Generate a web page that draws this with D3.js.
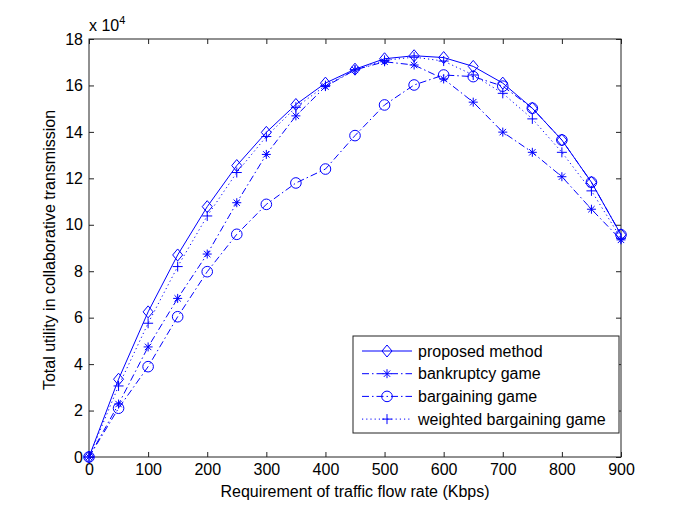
<!DOCTYPE html>
<html><head><meta charset="utf-8">
<script src="https://cdn.jsdelivr.net/npm/d3@7"></script>
<style>
body{margin:0;background:#fff}
text{font-family:"Liberation Sans",Arial,Helvetica,sans-serif;}
</style>
</head><body>
<svg id="c" width="685" height="515"></svg>
<script>
// ---- data (values in units of 10^4) ----
const rates = [0,50,100,150,200,250,300,350,400,450,500,550,600,650,700,750,800,850,900];
const proposed   = [0,3.35,6.25,8.70,10.78,12.55,13.98,15.18,16.10,16.70,17.15,17.28,17.20,16.82,16.10,15.02,13.65,11.83,9.57];
const bankruptcy = [0,2.28,4.74,6.83,8.74,10.95,13.03,14.69,15.95,16.67,17.02,16.88,16.28,15.28,13.99,13.12,12.07,10.67,9.35];
const bargaining = [0,2.10,3.89,6.04,7.98,9.59,10.88,11.80,12.40,13.84,15.16,16.02,16.45,16.38,15.97,15.02,13.65,11.83,9.57];
const weighted   = [0,3.06,5.76,8.20,10.38,12.25,13.80,15.06,15.99,16.67,17.08,17.22,17.05,16.45,15.66,14.56,13.12,11.46,9.42];
const seriesNames = ["proposed method","bankruptcy game","bargaining game","weighted bargaining game"];
const xTicks = [0,100,200,300,400,500,600,700,800,900];
const yTicks = [0,2,4,6,8,10,12,14,16,18];
const xLabel = "Requirement of traffic flow rate (Kbps)";
const yLabel = "Total utility in collaborative transmission";

// ---- layout ----
const L = 89, R = 621, T = 39, B = 457;
const blue = "#0000ff";
const svg = d3.select("#c");
const x = d3.scaleLinear().domain([0,900]).range([L,R]);
const y = d3.scaleLinear().domain([0,18]).range([B,T]);

const series = [
  {name: seriesNames[0], values: proposed,   dash: null,        marker: "diamond"},
  {name: seriesNames[1], values: bankruptcy, dash: "7,3,1.5,3", marker: "asterisk"},
  {name: seriesNames[2], values: bargaining, dash: "7,3,1.5,3", marker: "circle"},
  {name: seriesNames[3], values: weighted,   dash: "1.2,3",     marker: "plus"}
];

function drawMarker(g, type, cx, cy) {
  const s = g.append("g").attr("transform", `translate(${cx},${cy})`)
    .attr("fill","none").attr("stroke",blue).attr("stroke-width",1);
  if (type === "diamond") {
    s.append("path").attr("d","M0,-6L5,0L0,6L-5,0Z");
  } else if (type === "circle") {
    s.append("circle").attr("r",5.3);
  } else if (type === "plus") {
    s.append("path").attr("d","M-5,0H5M0,-5V5");
  } else if (type === "asterisk") {
    s.append("path").attr("d","M-4.5,0H4.5M0,-4.5V4.5M-3.2,-3.2L3.2,3.2M-3.2,3.2L3.2,-3.2");
  }
}

// axes
const axG = svg.append("g").attr("font-size",16).attr("fill","#000");
const xb = d3.axisBottom(x).tickValues(xTicks).tickSize(-5).tickPadding(7).tickFormat(d3.format("d"));
const xt = d3.axisTop(x).tickValues(xTicks).tickSize(-5).tickFormat("");
const yl = d3.axisLeft(y).tickValues(yTicks).tickSize(-5).tickPadding(6).tickFormat(d3.format("d"));
const yr = d3.axisRight(y).tickValues(yTicks).tickSize(-5).tickFormat("");
function styleAxis(g){
  g.select(".domain").remove();
  g.selectAll(".tick line").attr("stroke","#222");
  g.selectAll(".tick text").attr("fill","#000").attr("font-size",16)
    .attr("font-family",'"Liberation Sans",Arial,Helvetica,sans-serif');
}
svg.append("g").attr("transform",`translate(0,${B})`).call(xb).call(styleAxis);
svg.append("g").attr("transform",`translate(0,${T})`).call(xt).call(styleAxis);
svg.append("g").attr("transform",`translate(${L},0)`).call(yl).call(styleAxis);
svg.append("g").attr("transform",`translate(${R},0)`).call(yr).call(styleAxis);
svg.append("rect").attr("x",L).attr("y",T).attr("width",R-L).attr("height",B-T)
  .attr("fill","none").attr("stroke","#222").attr("stroke-width",1);

// exponent
const ex = svg.append("text").attr("x",89).attr("y",31).attr("font-size",16).attr("fill","#000");
ex.append("tspan").text("x 10");
ex.append("tspan").attr("font-size",11).attr("dy",-7).text("4");

// labels
svg.append("text").attr("x",(L+R)/2).attr("y",497).attr("text-anchor","middle")
  .attr("font-size",16).attr("fill","#000").text(xLabel);
svg.append("text").attr("transform",`translate(55,${(T+B)/2+2}) rotate(-90)`).attr("text-anchor","middle")
  .attr("font-size",16).attr("fill","#000").text(yLabel);

// series
const line = d3.line().x((d,i)=>x(rates[i])).y(d=>y(d));
const plot = svg.append("g");
series.forEach(s => {
  plot.append("path").datum(s.values).attr("d",line).attr("fill","none")
    .attr("stroke",blue).attr("stroke-width",1).attr("stroke-dasharray",s.dash);
  s.values.forEach((v,i) => drawMarker(plot, s.marker, x(rates[i]), y(v)));
});

// legend
const lg = svg.append("g");
lg.append("rect").attr("x",353).attr("y",336).attr("width",266).attr("height",97)
  .attr("fill","#fff").attr("stroke","#222").attr("stroke-width",1);
series.forEach((s,k) => {
  const ly = 351 + k*22.7;
  lg.append("line").attr("x1",362).attr("x2",412).attr("y1",ly).attr("y2",ly)
    .attr("stroke",blue).attr("stroke-width",1).attr("stroke-dasharray",s.dash);
  drawMarker(lg, s.marker, 387, ly);
  lg.append("text").attr("x",418).attr("y",ly).attr("dy","0.35em")
    .attr("font-size",16).attr("fill","#000").text(s.name);
});
</script>
</body></html>
